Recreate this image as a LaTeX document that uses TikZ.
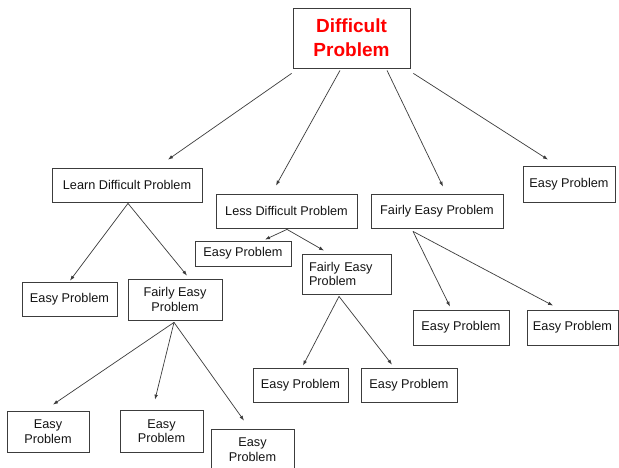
\documentclass[tikz,border=0pt]{standalone}
\usepackage{fontspec}
\setmainfont{Liberation Sans}
\usetikzlibrary{arrows.meta}

\begin{document}
\begin{tikzpicture}[x=1pt,y=1pt,
  box/.style={draw=drawColor,line width=0.8pt,inner sep=0pt,text=textColor,
    font=\fontsize{12.7}{14.5}\selectfont,align=center},
  arr/.style={draw=drawColor,line width=0.7pt,-{Latex[length=5pt,width=3.6pt]}}]
\definecolor{fillColor}{RGB}{255,255,255}
\definecolor{drawColor}{RGB}{60,60,60}
\definecolor{textColor}{RGB}{20,20,20}
\definecolor{rootColor}{RGB}{255,0,0}
\path[use as bounding box,fill=fillColor] (0,0) rectangle (619,468);

% top level
\node[box,minimum width=117pt,minimum height=60pt,text=rootColor,
  font=\fontsize{19}{24}\selectfont\bfseries] (root) at (351.5,430) {Difficult\\Problem};
\node[box,minimum width=150pt,minimum height=34pt] (ldp) at (127,283) {Learn Difficult Problem};
\node[box,minimum width=141pt,minimum height=34pt] (lessdp) at (286.5,257) {Less Difficult Problem};
\node[box,minimum width=132pt,minimum height=34pt] (fep) at (437,257) {Fairly Easy Problem};
\node[box,minimum width=92pt,minimum height=36pt] (etr) at (569,284) {Easy Problem};

% second level
\node[box,minimum width=95pt,minimum height=34pt] (ea) at (69.5,169) {Easy Problem};
\node[box,minimum width=94pt,minimum height=41pt] (feA) at (175,168.5) {Fairly Easy\\Problem};
\node[box,minimum width=96pt,minimum height=25pt] (eb) at (243,214.5) {Easy Problem};
\node[box,text width=75pt,inner xsep=7pt,minimum height=40pt,align=left] (feB) at (346.5,194) {Fairly Easy\\Problem};
\node[box,minimum width=96pt,minimum height=35pt] (ee) at (461,140.5) {Easy Problem};
\node[box,minimum width=91pt,minimum height=35pt] (ef) at (572.5,140.5) {Easy Problem};

% third level
\node[box,minimum width=95pt,minimum height=34pt] (ec) at (300.5,83) {Easy Problem};
\node[box,minimum width=96pt,minimum height=34pt] (ed) at (409,83) {Easy Problem};
\node[box,minimum width=82pt,minimum height=41pt] (eg) at (48,36.5) {Easy\\Problem};
\node[box,minimum width=83pt,minimum height=42pt] (eh) at (161.5,37) {Easy\\Problem};
\node[box,minimum width=83pt,minimum height=41pt] (ei) at (252.5,18.5) {Easy\\Problem};

% arrows
\draw[arr] ([shift={(-1,-5)}]root.south west) -- ([shift={(41,8)}]ldp.north);
\draw[arr] ([shift={(-11.5,-2)}]root.south) -- ([shift={(-10.5,8)}]lessdp.north);
\draw[arr] ([shift={(35.5,-2)}]root.south) -- ([shift={(6,7)}]fep.north);
\draw[arr] ([shift={(3,-5)}]root.south east) -- ([shift={(-21,6)}]etr.north);

\draw[arr] ([shift={(1,-1)}]ldp.south) -- ([shift={(0.5,1)}]ea.north);
\draw[arr] ([shift={(1,-1)}]ldp.south) -- ([shift={(12,3)}]feA.north);
\draw[arr] ([shift={(0.5,-1)}]lessdp.south) -- ([shift={(22,1)}]eb.north);
\draw[arr] ([shift={(0.5,-1)}]lessdp.south) -- ([shift={(-22.5,3)}]feB.north);
\draw[arr] ([shift={(-24,-3)}]fep.south) -- ([shift={(-11,3)}]ee.north);
\draw[arr] ([shift={(-24,-3)}]fep.south) -- ([shift={(-19.5,4)}]ef.north);

\draw[arr] ([shift={(-7.5,-2)}]feB.south) -- ([shift={(2.5,2)}]ec.north);
\draw[arr] ([shift={(-7.5,-2)}]feB.south) -- ([shift={(-17,3)}]ed.north);
\draw[arr] ([shift={(-1,-2)}]feA.south) -- ([shift={(5,6)}]eg.north);
\draw[arr] ([shift={(-1,-2)}]feA.south) -- ([shift={(-6.5,10)}]eh.north);
\draw[arr] ([shift={(-1,-2)}]feA.south) -- ([shift={(-8.5,8)}]ei.north);
\end{tikzpicture}
\end{document}
